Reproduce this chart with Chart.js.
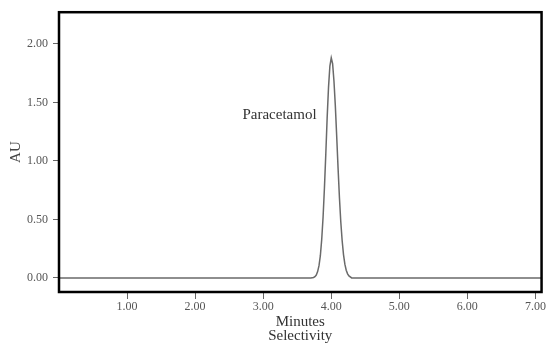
<!DOCTYPE html>
<html>
<head>
<meta charset="utf-8">
<script src="https://cdn.jsdelivr.net/npm/chart.js@4.4.1/dist/chart.umd.min.js"></script>
<style>
    html, body { margin: 0; padding: 0; background: #fff; }
    #wrap { width: 547px; height: 343px; position: relative; }
</style>
</head>
<body>
<div id="wrap"><canvas id="chromChart"></canvas></div>
<script>
// Chromatogram data
const minutes = [0, 3.70, 3.74, 3.76, 3.78, 3.80, 3.82, 3.84, 3.86, 3.88, 3.90, 3.92, 3.94, 3.96, 3.98,
    4.00, 4.02, 4.04, 4.06, 4.08, 4.10, 4.12, 4.14, 4.16, 4.18, 4.20, 4.22, 4.24, 4.26, 4.30, 7.10];
const absorbance = [0, 0, 0.004, 0.011, 0.025, 0.054, 0.105, 0.19, 0.33, 0.52, 0.77, 1.06, 1.37, 1.63, 1.81,
    1.88, 1.83, 1.68, 1.47, 1.21, 0.94, 0.69, 0.48, 0.32, 0.20, 0.118, 0.066, 0.035, 0.017, 0, 0];

const xTicks = [1, 2, 3, 4, 5, 6, 7];
const yTicks = [0, 0.5, 1, 1.5, 2];

const peakName = 'Paracetamol';
const peakLabelAt = { x: 3.24, y: 1.39 };

const serif = '"Liberation Serif", "DejaVu Serif", "Times New Roman", serif';

// Frame round the plot and the peak name
const framePlugin = {
    id: 'frame',
    afterDraw(chart) {
        const { ctx, chartArea: a, scales } = chart;
        ctx.save();
        ctx.font = '15px ' + serif;
        ctx.fillStyle = '#333';
        ctx.textAlign = 'center';
        ctx.textBaseline = 'middle';
        ctx.fillText(peakName, scales.x.getPixelForValue(peakLabelAt.x), scales.y.getPixelForValue(peakLabelAt.y));
        ctx.strokeStyle = '#000';
        ctx.lineWidth = 2.5;
        ctx.strokeRect(a.left, a.top, a.right - a.left, a.bottom - a.top);
        ctx.restore();
    }
};

const ctx = document.getElementById('chromChart').getContext('2d');
const chromChart = new Chart(ctx, {
    type: 'line',
    data: {
        datasets: [{
            label: 'AU',
            data: minutes.map((m, i) => ({ x: m, y: absorbance[i] })),
            borderColor: '#6a6a6a',
            borderWidth: 1.5,
            pointRadius: 0,
            tension: 0,
            fill: false
        }]
    },
    options: {
        responsive: true,
        maintainAspectRatio: false,
        animation: false,
        layout: { padding: { top: 12, right: 5, left: 0, bottom: 0 } },
        plugins: {
            legend: { display: false },
            tooltip: { enabled: false }
        },
        scales: {
            x: {
                type: 'linear',
                min: 0,
                max: 7.09,
                afterBuildTicks: scale => { scale.ticks = xTicks.map(v => ({ value: v })); },
                afterFit: scale => { scale.height = 51; },
                grid: { drawOnChartArea: false, tickLength: 7, tickColor: '#666', tickWidth: 1 },
                border: { display: false },
                ticks: {
                    color: '#555',
                    font: { family: serif, size: 12 },
                    padding: 1,
                    maxRotation: 0,
                    callback: v => v.toFixed(2)
                },
                title: {
                    display: true,
                    text: ['Minutes', 'Selectivity'],
                    color: '#333',
                    font: { family: serif, size: 15, lineHeight: '14px' },
                    padding: 0
                }
            },
            y: {
                min: -0.12,
                max: 2.27,
                afterBuildTicks: scale => { scale.ticks = yTicks.map(v => ({ value: v })); },
                afterFit: scale => { scale.width = 59; },
                grid: { drawOnChartArea: false, tickLength: 6, tickColor: '#666', tickWidth: 1 },
                border: { display: false },
                ticks: {
                    color: '#555',
                    font: { family: serif, size: 12 },
                    padding: 5,
                    callback: v => v.toFixed(2)
                },
                title: {
                    display: true,
                    text: 'AU',
                    color: '#444',
                    font: { family: serif, size: 15, lineHeight: '14px' },
                    padding: { top: 9, bottom: 0 }
                }
            }
        }
    },
    plugins: [framePlugin]
});
</script>
</body>
</html>
